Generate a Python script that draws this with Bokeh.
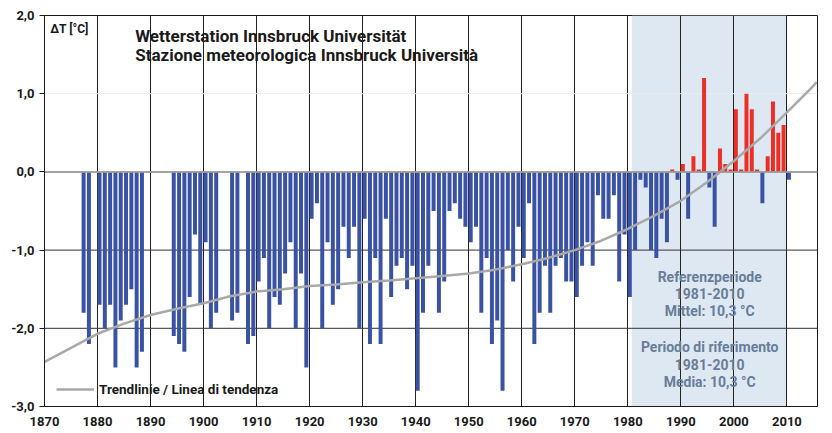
from bokeh.plotting import figure
from bokeh.models import Range1d, FixedTicker, Span, BoxAnnotation, Label, Legend, LegendItem, ColumnDataSource
from bokeh.embed import file_html
from bokeh.resources import INLINE

# ---------------- data ----------------
years = list(range(1877, 2011))
anomaly = (
    [-1.8, -2.2, None]                                              # 1877-1879
    + [-1.7, -2.0, -1.7, -2.5, -1.9, -1.7, -1.5, -2.5, -2.3, None]  # 1880s
    + [None, None, None, None, -2.1, -2.2, -2.3, -1.6, -0.8, -1.7]  # 1890s
    + [-0.9, -2.0, -1.8, None, None, -1.9, -1.8, None, -2.2, -2.1]  # 1900s
    + [-1.4, -1.1, -2.0, -1.6, -1.7, -1.3, -0.9, -2.0, -1.3, -2.5]  # 1910s
    + [-0.6, -0.4, -2.0, -0.9, -1.7, -1.5, -0.7, -1.1, -0.7, -2.0]  # 1920s
    + [-0.6, -2.2, -1.1, -2.2, -0.6, -1.6, -1.2, -1.1, -1.5, -1.2]  # 1930s
    + [-2.8, -1.8, -1.2, -0.5, -1.8, -1.4, -0.5, -0.4, -0.6, -0.7]  # 1940s
    + [-0.9, -0.7, -1.8, -1.1, -2.2, -1.9, -2.8, -1.0, -1.4, -0.7]  # 1950s
    + [-1.1, -0.4, -2.2, -1.8, -1.2, -1.8, -1.2, -1.1, -1.4, -1.4]  # 1960s
    + [-1.6, -1.2, -0.9, -1.2, -0.3, -0.6, -0.6, -0.3, -1.4, -0.8]  # 1970s
    + [-1.6, -1.0, -0.1, -0.2, -1.0, -1.1, -0.6, -0.9, 0.03, -0.1]  # 1980s
    + [0.1, -0.6, 0.2, 0.03, 1.2, -0.2, -0.7, 0.3, 0.1, 0.03]       # 1990s
    + [0.8, 0.03, 1.0, 0.8, 0.03, -0.4, 0.2, 0.9, 0.5, 0.6, -0.1]   # 2000-2010
)

trend_years = [1870, 1875, 1880, 1885, 1890, 1895, 1900, 1905, 1910, 1915, 1920,
               1925, 1930, 1935, 1940, 1945, 1950, 1955, 1960, 1965, 1970, 1975,
               1980, 1985, 1990, 1995, 2000, 2005, 2010, 2015, 2015.6]
trend_values = [-2.43, -2.25, -2.07, -1.94, -1.83, -1.75, -1.68, -1.59, -1.53, -1.50,
                -1.46, -1.44, -1.41, -1.39, -1.36, -1.33, -1.30, -1.25, -1.18, -1.10,
                -1.00, -0.88, -0.73, -0.56, -0.37, -0.13, 0.14, 0.43, 0.76, 1.10, 1.15]

decade_ticks = list(range(1870, 2011, 10))
x_tick_labels = {y: str(y) for y in decade_ticks}
y_ticks = [-3, -2, -1, 0, 1, 2]
y_tick_labels = {-3: "-3,0", -2: "-2,0", -1: "-1,0", 0: "0,0", 1: "1,0", 2: "2,0"}

ref_period = (1980.75, 2010)
title_lines = ["Wetterstation Innsbruck Universität",
               "Stazione meteorologica Innsbruck Università"]
ref_text = ["Referenzperiode", "1981-2010", "Mittel: 10,3 °C",
            "Periodo di riferimento", "1981-2010", "Media: 10,3 °C"]

BLUE = "#3a52a3"
RED = "#ee2e24"
FONT = "Roboto"

# ---------------- figure ----------------
p = figure(width=832, height=433, output_backend="svg", toolbar_location=None,
           x_range=Range1d(1870, 2015.77), y_range=Range1d(-3, 2),
           min_border_left=44, min_border_right=15, min_border_top=15, min_border_bottom=27)
p.background_fill_color = "white"
p.border_fill_color = "white"
p.outline_line_color = "#1a1a1a"
p.outline_line_width = 1

# shaded reference period
p.add_layout(BoxAnnotation(left=ref_period[0], right=ref_period[1],
                           fill_color="#dde8f3", fill_alpha=1.0,
                           line_color=None, level="image"))

# grids
p.xgrid.ticker = FixedTicker(ticks=decade_ticks)
p.xgrid.grid_line_color = "#222222"
p.xgrid.grid_line_width = 1
p.xgrid.level = "underlay"
p.ygrid.visible = False
for yv, col, w in [(-2, "#333333", 1), (-1, "#333333", 1), (1, "#ececec", 1)]:
    p.add_layout(Span(location=yv, dimension="width", line_color=col,
                      line_width=w, level="underlay"))

# bars
bx, bt, bc = [], [], []
for yr, v in zip(years, anomaly):
    if v is None:
        continue
    bx.append(yr + 0.375)
    bt.append(v)
    bc.append(RED if v > 0 else BLUE)
src = ColumnDataSource(dict(x=bx, top=bt, color=bc))
p.vbar(x="x", top="top", bottom=0, width=0.75, fill_color="color",
       line_color=None, source=src)

# zero line
p.add_layout(Span(location=0, dimension="width", line_color="#9a9a9a",
                  line_width=2, line_alpha=0.9, level="glyph"))

# trend line
trend = p.line(trend_years, trend_values, line_color="#a9a9a9", line_width=2.5)

legend = Legend(items=[LegendItem(label="Trendlinie / Linea di tendenza",
                                  renderers=[trend])],
                location=(12, 9), padding=0, margin=0, spacing=0,
                glyph_width=38, glyph_height=14, label_standoff=5,
                label_text_font=FONT, label_text_font_style="bold",
                label_text_font_size="13.5px", label_text_color="#1a1a1a",
                background_fill_alpha=0, border_line_color=None)
p.add_layout(legend)

# axes
p.xaxis.ticker = FixedTicker(ticks=decade_ticks)
p.xaxis.major_label_overrides = x_tick_labels
p.xaxis.major_tick_out = 0
p.xaxis.major_tick_in = 0
p.xaxis.minor_tick_line_color = None
p.xaxis.axis_line_color = "#1a1a1a"
p.xaxis.major_label_standoff = 10
p.xaxis.major_label_text_font = FONT
p.xaxis.major_label_text_font_style = "bold"
p.xaxis.major_label_text_font_size = "13px"
p.xaxis.major_label_text_color = "#1a1a1a"

p.yaxis.ticker = FixedTicker(ticks=y_ticks)
p.yaxis.major_label_overrides = y_tick_labels
p.yaxis.major_tick_out = 5
p.yaxis.major_tick_in = 0
p.yaxis.major_tick_line_color = "#1a1a1a"
p.yaxis.minor_tick_line_color = None
p.yaxis.axis_line_color = "#1a1a1a"
p.yaxis.major_label_standoff = 5
p.yaxis.major_label_text_font = FONT
p.yaxis.major_label_text_font_style = "bold"
p.yaxis.major_label_text_font_size = "13px"
p.yaxis.major_label_text_color = "#1a1a1a"

# texts
p.add_layout(Label(x=1871.1, y=1.83, text="ΔT [°C]", text_font=FONT,
                   text_font_style="bold", text_font_size="12px",
                   text_color="#1a1a1a", text_baseline="middle"))
for t, yy in zip(title_lines, [1.735, 1.49]):
    p.add_layout(Label(x=1887.1, y=yy, text=t, text_font=FONT,
                       text_font_style="bold", text_font_size="17px",
                       text_color="#1a1a1a", text_baseline="middle"))
for t, yy in zip(ref_text, [-1.34, -1.56, -1.785, -2.24, -2.46, -2.685]):
    p.add_layout(Label(x=1995.44, y=yy, text=t, text_font=FONT,
                       text_font_style="bold", text_font_size="14px",
                       text_color="#687d98", text_align="center",
                       text_baseline="middle"))
p.add_layout(Label(x=2017.2, y=-3.03, text="© www.alpenklima.eu", angle=1.5708,
                   text_font=FONT, text_font_size="11px", text_color="#777777",
                   text_align="left", text_baseline="middle"))

open("out.html", "w").write(file_html(p, INLINE))
